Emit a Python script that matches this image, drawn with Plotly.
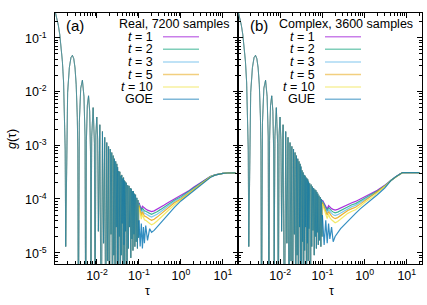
import math
import plotly.graph_objects as go

# ---------------- data ----------------
# shared early oscillating part of g(tau) (identical for all curves, both panels)
tau_early = [0.0010, 0.0011, 0.0012, 0.0013, 0.0014, 0.0015, 0.0016, 0.0017, 0.00175, 0.0018,
             0.0019, 0.0020, 0.0022, 0.0024, 0.0026, 0.0028, 0.0030, 0.0032, 0.0034, 0.0035, 0.0036,
             0.0038, 0.0041, 0.0045, 0.0049, 0.0052, 0.0054,
             0.0056, 0.0059, 0.0063, 0.0067, 0.0070, 0.0072,
             0.0075, 0.0081, 0.0087, 0.0090,
             0.0094, 0.0099, 0.0104, 0.0108,
             0.0117, 0.0126, 0.0135, 0.0144, 0.0153, 0.0162, 0.0171, 0.0180, 0.0189, 0.0198,
             0.0207, 0.0216, 0.0225, 0.0234, 0.0243, 0.0252, 0.0261, 0.0270, 0.0279, 0.0288,
             0.0297, 0.0306]
g_early = [0.318, 0.240, 0.171, 0.114, 0.0693, 0.0365, 0.0150, 0.00342, 0.00082, 1.3e-5,
           0.00274, 0.0096, 0.0280, 0.0427, 0.0471, 0.0406, 0.0274, 0.0133, 0.00332, 0.00081, 1e-7,
           0.00266, 0.0115, 0.0162, 0.0080, 0.00142, 1e-7,
           0.00122, 0.0055, 0.0083, 0.0043, 0.00078, 6e-6,
           0.00146, 0.0050, 0.00108, 1e-7,
           0.00154, 0.00335, 0.00126, 2.5e-5,
           0.0024, 1e-7, 0.0018, 1.5e-5, 0.0014, 1e-7, 0.00112, 7e-6, 0.00095, 1e-7,
           0.00085, 2.2e-5, 0.00073, 1e-7, 0.00064, 9e-6, 0.00056, 1e-7, 0.00050, 3e-5,
           0.00045, 1e-7]

# dense noisy band (panel a)
tau_band_a = [0.031, 0.032, 0.033, 0.034, 0.035, 0.036, 0.037, 0.038, 0.039, 0.040,
              0.041, 0.042, 0.043, 0.044, 0.045, 0.046, 0.047, 0.048, 0.050, 0.052,
              0.054, 0.056, 0.058, 0.060, 0.062, 0.064, 0.066, 0.068, 0.070, 0.072,
              0.074, 0.076, 0.078, 0.080, 0.083, 0.086, 0.089, 0.092, 0.095, 0.098]
g_band_a = [3.9e-4, 1e-7, 3.3e-4, 2e-5, 3.2e-4, 1e-7, 2.7e-4, 9e-6, 2.8e-4, 3.5e-5,
            2.4e-4, 1e-7, 2.5e-4, 1.4e-5, 2.2e-4, 6e-6, 2.1e-4, 2.5e-5, 2.0e-4, 1e-7,
            1.8e-4, 1.2e-5, 1.75e-4, 3e-5, 1.6e-4, 8e-6, 1.55e-4, 1.8e-5, 1.4e-4, 1.1e-5,
            1.4e-4, 2.2e-5, 1.25e-4, 1.3e-5, 1.2e-4, 1.6e-5, 1.05e-4, 1.2e-5, 9.5e-5, 1.9e-5]

# dense noisy band (panel b)
tau_band_b = [0.031, 0.032, 0.033, 0.034, 0.035, 0.036, 0.037, 0.038, 0.039, 0.040,
              0.041, 0.042, 0.043, 0.044, 0.045, 0.046, 0.047, 0.048, 0.050, 0.052,
              0.054, 0.056, 0.058, 0.060, 0.062, 0.064, 0.066, 0.068, 0.070, 0.072,
              0.074, 0.076, 0.078, 0.080, 0.083, 0.086, 0.089, 0.092, 0.095, 0.098]
g_band_b = [4.0e-4, 1e-7, 3.4e-4, 1.6e-5, 3.1e-4, 1e-7, 2.8e-4, 1.1e-5, 2.7e-4, 3e-5,
            2.5e-4, 1e-7, 2.4e-4, 1.5e-5, 2.3e-4, 7e-6, 2.1e-4, 2.8e-5, 1.95e-4, 1e-7,
            1.85e-4, 1.3e-5, 1.7e-4, 2.6e-5, 1.6e-4, 9e-6, 1.5e-4, 2e-5, 1.45e-4, 1.2e-5,
            1.35e-4, 2.4e-5, 1.25e-4, 1.4e-5, 1.15e-4, 1.7e-5, 1.08e-4, 1.3e-5, 1.0e-4, 2e-5]

# tails, panel (a): Real, 7200 samples
tau_tail_a = [0.100, 0.107, 0.114, 0.121, 0.128, 0.135, 0.145, 0.16, 0.18, 0.2, 0.23, 0.27,
              0.33, 0.4, 0.5, 0.7, 1.0, 1.5, 2.0, 3.0, 4.0, 5.0, 6.5, 8.0, 10, 13, 20]
g_a_t1 = [8.5e-5, 7.0e-5, 6.4e-5, 7.3e-5, 7.0e-5, 6.6e-5, 6.5e-5, 6.2e-5, 6.0e-5, 5.8e-5, 6.0e-5, 6.4e-5,
          7.0e-5, 7.7e-5, 8.6e-5, 1.0e-4, 1.15e-4, 1.4e-4, 1.65e-4, 2.0e-4, 2.3e-4, 2.6e-4, 2.8e-4, 2.92e-4, 3.0e-4, 3.04e-4, 3.05e-4]
g_a_t2 = [8.3e-5, 6.6e-5, 6.0e-5, 6.8e-5, 6.4e-5, 6.0e-5, 5.9e-5, 5.6e-5, 5.4e-5, 5.2e-5, 5.4e-5, 5.8e-5,
          6.4e-5, 7.1e-5, 8.0e-5, 9.5e-5, 1.1e-4, 1.36e-4, 1.6e-4, 1.97e-4, 2.28e-4, 2.6e-4, 2.8e-4, 2.92e-4, 3.0e-4, 3.04e-4, 3.05e-4]
g_a_t3 = [8.0e-5, 6.2e-5, 5.5e-5, 6.3e-5, 5.8e-5, 5.4e-5, 5.3e-5, 5.0e-5, 4.8e-5, 4.6e-5, 4.8e-5, 5.2e-5,
          5.8e-5, 6.6e-5, 7.4e-5, 9.0e-5, 1.05e-4, 1.32e-4, 1.57e-4, 1.95e-4, 2.26e-4, 2.58e-4, 2.8e-4, 2.92e-4, 3.0e-4, 3.04e-4, 3.05e-4]
g_a_t5 = [7.6e-5, 5.6e-5, 4.9e-5, 5.8e-5, 5.2e-5, 4.8e-5, 4.7e-5, 4.4e-5, 4.2e-5, 4.0e-5, 4.2e-5, 4.6e-5,
          5.2e-5, 6.0e-5, 6.8e-5, 8.5e-5, 1.0e-4, 1.28e-4, 1.52e-4, 1.92e-4, 2.24e-4, 2.57e-4, 2.79e-4, 2.92e-4, 3.0e-4, 3.04e-4, 3.05e-4]
g_a_t10 = [7.0e-5, 5.0e-5, 4.2e-5, 5.2e-5, 4.5e-5, 4.1e-5, 4.0e-5, 3.7e-5, 3.5e-5, 3.3e-5, 3.5e-5, 3.9e-5,
           4.5e-5, 5.3e-5, 6.1e-5, 7.8e-5, 9.6e-5, 1.24e-4, 1.47e-4, 1.9e-4, 2.22e-4, 2.56e-4, 2.79e-4, 2.91e-4, 3.0e-4, 3.04e-4, 3.05e-4]
g_a_goe = [4.0e-5, 1.3e-5, 3.5e-5, 1.2e-5, 3.0e-5, 1.5e-5, 3.2e-5, 1.7e-5, 2.8e-5, 2.4e-5, 2.6e-5, 3.0e-5,
           3.6e-5, 4.3e-5, 5.2e-5, 7.0e-5, 9.2e-5, 1.18e-4, 1.42e-4, 1.87e-4, 2.2e-4, 2.5e-4, 2.78e-4, 2.9e-4, 3.0e-4, 3.04e-4, 3.05e-4]

# tails, panel (b): Complex, 3600 samples
tau_tail_b = [0.100, 0.11, 0.12, 0.13, 0.14, 0.15, 0.165, 0.18, 0.2, 0.23, 0.27, 0.33, 0.4,
              0.5, 0.61, 0.8, 1.0, 1.5, 2.0, 3.0, 4.2, 5.5, 7.0, 7.9, 10, 14, 20]
g_b_t1 = [9.5e-5, 8.3e-5, 7.2e-5, 6.5e-5, 7.5e-5, 7.0e-5, 6.6e-5, 6.4e-5, 6.2e-5, 6.4e-5, 6.8e-5, 7.4e-5, 8.0e-5,
          8.5e-5, 9.0e-5, 1.0e-4, 1.1e-4, 1.28e-4, 1.45e-4, 1.8e-4, 2.25e-4, 2.6e-4, 2.93e-4, 3.1e-4, 3.1e-4, 3.1e-4, 3.1e-4]
g_b_t2 = [9.3e-5, 8.0e-5, 6.8e-5, 6.0e-5, 6.9e-5, 6.4e-5, 6.0e-5, 5.7e-5, 5.5e-5, 5.7e-5, 6.1e-5, 6.7e-5, 7.3e-5,
          7.8e-5, 8.2e-5, 9.3e-5, 1.03e-4, 1.22e-4, 1.4e-4, 1.77e-4, 2.24e-4, 2.6e-4, 2.92e-4, 3.1e-4, 3.1e-4, 3.1e-4, 3.1e-4]
g_b_t3 = [9.0e-5, 7.6e-5, 6.3e-5, 5.5e-5, 6.3e-5, 5.8e-5, 5.4e-5, 5.1e-5, 4.9e-5, 5.1e-5, 5.5e-5, 6.1e-5, 6.7e-5,
          7.2e-5, 7.6e-5, 8.7e-5, 9.8e-5, 1.17e-4, 1.36e-4, 1.75e-4, 2.23e-4, 2.59e-4, 2.92e-4, 3.1e-4, 3.1e-4, 3.1e-4, 3.1e-4]
g_b_t5 = [8.6e-5, 7.0e-5, 5.8e-5, 5.0e-5, 5.8e-5, 5.2e-5, 4.8e-5, 4.5e-5, 4.3e-5, 4.5e-5, 4.9e-5, 5.5e-5, 6.1e-5,
          6.6e-5, 7.0e-5, 8.1e-5, 9.2e-5, 1.12e-4, 1.32e-4, 1.72e-4, 2.22e-4, 2.59e-4, 2.92e-4, 3.1e-4, 3.1e-4, 3.1e-4, 3.1e-4]
g_b_t10 = [8.0e-5, 6.3e-5, 5.1e-5, 4.3e-5, 5.2e-5, 4.5e-5, 4.1e-5, 3.8e-5, 3.6e-5, 3.8e-5, 4.2e-5, 4.8e-5, 5.4e-5,
           5.9e-5, 6.3e-5, 7.4e-5, 8.6e-5, 1.07e-4, 1.28e-4, 1.7e-4, 2.21e-4, 2.58e-4, 2.91e-4, 3.1e-4, 3.1e-4, 3.1e-4, 3.1e-4]
g_b_gue = [5.0e-5, 1.4e-5, 4.0e-5, 1.5e-5, 3.5e-5, 1.8e-5, 3.0e-5, 1.6e-5, 2.0e-5, 2.4e-5, 2.8e-5, 3.3e-5, 3.9e-5,
           4.7e-5, 5.4e-5, 6.6e-5, 7.6e-5, 1.0e-4, 1.2e-4, 1.6e-4, 2.2e-4, 2.58e-4, 2.91e-4, 3.1e-4, 3.1e-4, 3.1e-4, 3.1e-4]

series_names_a = ["<i>t</i> = 1", "<i>t</i> = 2", "<i>t</i> = 3", "<i>t</i> = 5", "<i>t</i> = 10", "GOE"]
series_names_b = ["<i>t</i> = 1", "<i>t</i> = 2", "<i>t</i> = 3", "<i>t</i> = 5", "<i>t</i> = 10", "GUE"]
tails_a = [g_a_t1, g_a_t2, g_a_t3, g_a_t5, g_a_t10, g_a_goe]
tails_b = [g_b_t1, g_b_t2, g_b_t3, g_b_t5, g_b_t10, g_b_gue]
base_colors = [(148, 0, 211), (0, 158, 115), (86, 180, 233), (230, 159, 0), (240, 228, 66), (0, 114, 178)]
alpha_early = [0.35, 0.4, 0.35, 0.35, 0.35, 0.7]
alpha_tail = [0.8, 0.75, 0.75, 0.8, 0.8, 0.8]

xticks = [0.01, 0.1, 1, 10]
xtext = ["10<sup>-2</sup>", "10<sup>-1</sup>", "10<sup>0</sup>", "10<sup>1</sup>"]
yticks = [1e-5, 1e-4, 1e-3, 1e-2, 1e-1]
ytext = ["10<sup>-5</sup>", "10<sup>-4</sup>", "10<sup>-3</sup>", "10<sup>-2</sup>", "10<sup>-1</sup>"]

# ---------------- figure ----------------
W, H = 427, 305
ML, MR, MT, MB = 55, 5, 13, 41
PW, PH = W - ML - MR, H - MT - MB
SPLIT = 238


def px(x):
    return (x - ML) / PW


def py(y):
    return (H - MB - y) / PH


def rgba(c, a):
    return "rgba(%d,%d,%d,%.2f)" % (c[0], c[1], c[2], a)


def add_series(tau_band, g_band, tau_tail, g_tail, i, xa, ya):
    # oscillating / noisy part (drawn thin and translucent)
    xs = tau_early + tau_band + tau_tail[:1]
    ys = g_early + g_band + g_tail[:1]
    fig.add_trace(go.Scatter(x=xs, y=ys, mode="lines",
                             line=dict(color=rgba(base_colors[i], alpha_early[i]), width=0.8),
                             xaxis=xa, yaxis=ya, showlegend=False, hoverinfo="skip"))
    # smooth tail of the same series
    fig.add_trace(go.Scatter(x=tau_tail, y=g_tail, mode="lines",
                             line=dict(color=rgba(base_colors[i], alpha_tail[i]), width=1.2),
                             xaxis=xa, yaxis=ya, showlegend=False, hoverinfo="skip"))


fig = go.Figure()
for i in range(6):
    add_series(tau_band_a, g_band_a, tau_tail_a, tails_a[i], i, "x", "y")
for i in range(6):
    add_series(tau_band_b, g_band_b, tau_tail_b, tails_b[i], i, "x2", "y2")

font = dict(family="Liberation Sans, Arial, sans-serif", size=12.5, color="black")

minor_x = [m * 10 ** k for k in range(-3, 2) for m in range(2, 10)]
minor_y = [m * 10 ** k for k in range(-6, 0) for m in range(2, 10)]

split = px(SPLIT)
common_x = dict(type="log", range=[-3, 1.36], showline=True, linecolor="black", linewidth=1,
                mirror="allticks", ticks="inside", ticklen=5, tickcolor="black", showgrid=False,
                zeroline=False, tickmode="array", tickvals=xticks, ticktext=xtext, tickfont=font,
                minor=dict(ticks="inside", ticklen=3, tickcolor="black", tickmode="array",
                           tickvals=minor_x, showgrid=False))
common_y = dict(type="log", range=[-5.21, -0.54], showline=True, linecolor="black", linewidth=1,
                mirror="allticks", ticks="inside", ticklen=5, tickcolor="black", showgrid=False,
                zeroline=False, tickmode="array", tickvals=yticks, ticktext=ytext, tickfont=font,
                showticklabels=False,
                minor=dict(ticks="inside", ticklen=3, tickcolor="black", tickmode="array",
                           tickvals=minor_y, showgrid=False))

fig.update_layout(
    width=W, height=H, margin=dict(l=ML, r=MR, t=MT, b=MB),
    paper_bgcolor="white", plot_bgcolor="white", font=font,
    xaxis=dict(common_x, domain=[0, split], anchor="y"),
    xaxis2=dict(common_x, domain=[split, 1], anchor="y2"),
    yaxis=dict(common_y, domain=[0, 1], anchor="x"),
    yaxis2=dict(common_y, domain=[0, 1], anchor="x2"),
)

ann = []
# y tick labels, placed at the left of panel (a)
for v, txt in zip(yticks, ytext):
    ann.append(dict(text=txt, x=px(49), y=math.log10(v), xref="paper", yref="y", showarrow=False,
                    font=font, xanchor="right", yanchor="middle"))
# axis titles
ann.append(dict(text="<i>g</i>(τ)", x=px(12), y=py(139), xref="paper", yref="paper",
                textangle=-90, showarrow=False, font=font, xanchor="center", yanchor="middle"))
ann.append(dict(text="τ", x=px(147), y=py(291), xref="paper", yref="paper",
                showarrow=False, font=font, xanchor="center", yanchor="middle"))
ann.append(dict(text="τ", x=px(331), y=py(291), xref="paper", yref="paper",
                showarrow=False, font=font, xanchor="center", yanchor="middle"))
# panel labels
ann.append(dict(text="(a)", x=px(64), y=py(26), xref="paper", yref="paper", showarrow=False,
                font=dict(font, size=15), xanchor="left", yanchor="middle"))
ann.append(dict(text="(b)", x=px(248), y=py(26), xref="paper", yref="paper", showarrow=False,
                font=dict(font, size=15), xanchor="left", yanchor="middle"))

# keys
row_y = [36.7, 49.3, 62, 74.5, 87, 99.3]
keys = [("Real, 7200 samples", 117, 155, 163, 199, series_names_a),
        ("Complex, 3600 samples", 277, 317, 325, 361, series_names_b)]
shapes = []
for title, tx, rx, l0, l1, names in keys:
    ann.append(dict(text=title, x=px(tx), y=py(24), xref="paper", yref="paper", showarrow=False,
                    font=font, xanchor="left", yanchor="middle"))
    for i, nm in enumerate(names):
        ann.append(dict(text=nm, x=px(rx), y=py(row_y[i]), xref="paper", yref="paper",
                        showarrow=False, font=font, xanchor="right", yanchor="middle"))
        shapes.append(dict(type="line", xref="paper", yref="paper", x0=px(l0), x1=px(l1),
                           y0=py(row_y[i]), y1=py(row_y[i]),
                           line=dict(color=rgba(base_colors[i], 0.5), width=1.5)))

fig.update_layout(annotations=ann, shapes=shapes)
fig.write_html("out.html", config={"displayModeBar": False},
               post_script="document.body.style.margin='0';document.body.style.overflow='hidden';")
